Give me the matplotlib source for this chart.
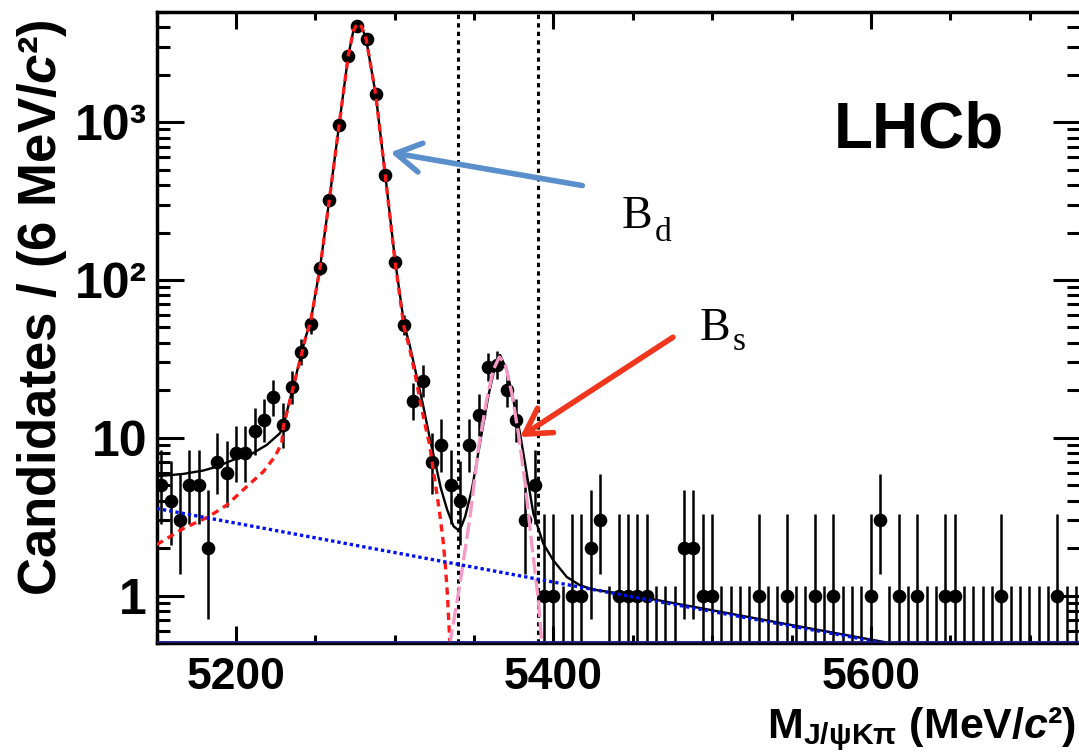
import math
import numpy as np
import matplotlib
matplotlib.use("Agg")
import matplotlib.pyplot as plt
from matplotlib import font_manager
from matplotlib.ticker import FixedLocator, MultipleLocator, LogLocator, NullFormatter


def has_font(name):
    try:
        font_manager.findfont(font_manager.FontProperties(family=name),
                              fallback_to_default=False)
        return True
    except Exception:
        return False


SANS = "Liberation Sans"
NARROW = "Liberation Sans Narrow" if has_font("Liberation Sans Narrow") else SANS
SERIF = "Liberation Serif"

plt.rcParams["font.family"] = [SANS, "DejaVu Sans"]
plt.rcParams["mathtext.fontset"] = "custom"
plt.rcParams["mathtext.rm"] = f"{SANS}:bold"
plt.rcParams["mathtext.it"] = f"{SANS}:italic:bold"
plt.rcParams["mathtext.bf"] = f"{NARROW}:bold"

# ---------------- data ----------------
# J/psi K pi invariant-mass histogram, bins start at 5150 MeV
bin_lo = 5150.0
bin_width = 5.88
counts = [
    5, 4, 3, 5, 5, 2, 7, 6, 8, 8,
    11, 13, 18, 12, 21, 35, 53, 119, 320, 962,
    2643, 4105, 3396, 1507, 462, 131, 52, 17, 23, 7,
    9, 5, 4, 9, 14, 28, 29, 20, 13, 3,
    5, 1, 1, 0, 1, 1, 2, 3, 0, 1,
    1, 1, 1, 0, 0, 0, 2, 2, 1, 1,
    0, 0, 0, 0, 1, 0, 0, 1, 0, 0,
    1, 0, 1, 0, 0, 0, 1, 3, 0, 1,
    0, 1, 0, 0, 1, 1, 0, 0, 0, 0,
    1, 0, 0, 0, 0, 0, 1, 0, 0,
]

# total fit
total_mass = [5150, 5166.8, 5179.4, 5187.8, 5198.3, 5208.8, 5219.3, 5227.7, 5229.9,
              5234.0, 5238.2, 5243.4, 5247.0, 5252.9, 5258.8, 5264.9, 5270.7, 5273.9,
              5276.6, 5279.0, 5281.9, 5288.0, 5294.0, 5300.2, 5305.8, 5309.6, 5313.8,
              5318.0, 5322.0, 5326.0, 5329.0, 5333.0, 5337.0, 5340.0, 5342.0, 5344.3,
              5348.5, 5353.7, 5358.9, 5363.2, 5366.3, 5370.5, 5374.7, 5378.9, 5383.1,
              5387.3, 5393.6, 5399.9, 5408.4, 5416.8, 5425.1, 5450, 5550, 5650, 5732]
total_val = [5.7, 5.9, 6.2, 6.55, 7.25, 7.8, 9.0, 10.7, 12.0,
             17.5, 25.8, 42, 55, 120, 325, 960, 2640, 3800,
             4250, 4050, 3400, 1500, 465, 133, 53, 38, 24.5,
             15.8, 10.0, 6.6, 4.8, 3.5, 2.75, 2.6, 2.75, 3.15,
             4.66, 9.25, 18.3, 28.5, 33.5, 27, 17.4, 10.7, 5.96,
             3.32, 2.13, 1.67, 1.31, 1.16, 1.09, 1.0, 0.65, 0.425, 0.295]

# B0 signal component
bd_mass = [5150, 5166.8, 5182.5, 5194.1, 5206.7, 5217.2, 5224.5, 5228.8, 5229.8,
           5234.0, 5238.2, 5243.4, 5247.0, 5252.9, 5258.8, 5264.9, 5270.7, 5273.9,
           5276.6, 5279.0, 5281.9, 5288.0, 5294.0, 5300.2, 5305.8, 5309.6, 5313.8,
           5316.0, 5320.0, 5322.0, 5324.3, 5326.4, 5328.5, 5330.5, 5332.0, 5333.2,
           5334.5, 5335.5]
bd_val = [2.1, 2.66, 3.15, 3.74, 4.9, 6.1, 7.6, 9.25, 11.8,
          17.3, 25.5, 41.5, 54.5, 119, 324, 958, 2637, 3797,
          4247, 4047, 3397, 1497, 462, 130, 50.5, 36, 22.5,
          17.0, 11.0, 9.0, 6.2, 4.5, 3.2, 2.2, 1.5, 1.0,
          0.55, 0.3]

# Bs signal component
bs_mass = [5333.5, 5334.8, 5341.1, 5347.4, 5352.6, 5357.9, 5362.1, 5365.9,
           5369.5, 5373.7, 5377.9, 5382.1, 5386.3, 5390.5, 5392.6, 5393.8]
bs_val = [0.35, 0.5, 1.19, 3.15, 8.4, 17.4, 27, 32.5,
          29.5, 19.2, 10.7, 5.15, 2.13, 0.93, 0.5, 0.35]

# combinatorial background
bkg_mass = [5150, 5250, 5350, 5450, 5550, 5650, 5732]
bkg_val = [3.56, 2.32, 1.51, 0.98, 0.64, 0.42, 0.29]

# Bs signal window
bs_window = [5340, 5390]

x_ticks = [5200, 5400, 5600]
x_ticklabels = ["5200", "5400", "5600"]
y_ticks = [1, 10, 100, 1000]
y_ticklabels = ["1", "10", "10\u00b2", "10\u00b3"]

# ---------------- Poisson error bars ----------------
ALPHA = 0.158655
LOGFACT = np.concatenate([[0.0], np.cumsum(np.log(np.arange(1, max(counts) + 2)))])


def pois_cdf(n, mu):
    i = np.arange(n + 1)
    t = i * math.log(mu) - mu - LOGFACT[: n + 1]
    m = t.max()
    return float(math.exp(m) * np.exp(t - m).sum())


def bisect(f, lo, hi, it=70):
    for _ in range(it):
        mid = 0.5 * (lo + hi)
        if f(mid) > 0:
            lo = mid
        else:
            hi = mid
    return 0.5 * (lo + hi)


def poisson_interval(n):
    if n == 0:
        return 0.0, -math.log(2 * ALPHA)
    up = bisect(lambda mu: pois_cdf(n, mu) - ALPHA, n, n + 10 * math.sqrt(n) + 10)
    lo = bisect(lambda mu: pois_cdf(n - 1, mu) - (1 - ALPHA), 1e-9, n)
    return lo, up


counts_arr = np.array(counts)
centers = bin_lo + bin_width * (np.arange(len(counts)) + 0.5)
intervals = [poisson_interval(n) for n in counts]
lo_arr = np.array([iv[0] for iv in intervals])
up_arr = np.array([iv[1] for iv in intervals])

# ---------------- figure ----------------
W, H, DPI = 1079, 755, 100
fig = plt.figure(figsize=(W / DPI, H / DPI), dpi=DPI)
ax_left, ax_right, ax_top, ax_bottom = 156.7, 1080.4, 12, 643
ax = fig.add_axes([ax_left / W, (H - ax_bottom) / H,
                   (ax_right - ax_left) / W, (ax_bottom - ax_top) / H])
ax.set_xlim(5150, 5732)
ax.set_yscale("log")
ax.set_ylim(0.5, 5000)

# signal window
for xv in bs_window:
    ax.axvline(xv, color="black", lw=2.2, ls=(0, (1.4, 1.4)), zorder=1)

# data
nz = counts_arr > 0
ax.errorbar(centers[nz], counts_arr[nz],
            yerr=[counts_arr[nz] - lo_arr[nz], up_arr[nz] - counts_arr[nz]],
            xerr=bin_width / 2, fmt="o", color="black", ms=8.8, elinewidth=1.8,
            capsize=0, zorder=3)
ax.vlines(centers[~nz], 1e-3, up_arr[~nz], color="black", lw=1.8, zorder=3)

# fit curves
ax.plot(total_mass, total_val, color="black", lw=1.7, zorder=4)
ax.plot(bd_mass, bd_val, color="#ff1a1a", lw=2.4, ls=(0, (2.2, 1.6)), zorder=5)
ax.plot(bs_mass, bs_val, color="#f59ac6", lw=2.4, ls=(0, (5, 1.5)), zorder=5)
ax.plot(bkg_mass, bkg_val, color="#0010ee", lw=2.4, ls=(0, (1.0, 0.9)), zorder=5)
ax.axhline(0.505, color="#1c1c80", lw=1.3, zorder=6)

# axes styling
for sp in ax.spines.values():
    sp.set_linewidth(2.5)
ax.xaxis.set_major_locator(FixedLocator(x_ticks))
ax.xaxis.set_minor_locator(MultipleLocator(50))
ax.set_xticklabels(x_ticklabels, fontfamily=NARROW, fontweight="bold", fontsize=32)
ax.yaxis.set_major_locator(FixedLocator(y_ticks))
ax.yaxis.set_minor_locator(LogLocator(base=10, subs=np.arange(2, 10)))
ax.yaxis.set_minor_formatter(NullFormatter())
ax.set_yticklabels(y_ticklabels, fontfamily=SANS, fontweight="bold", fontsize=36)
ax.tick_params(axis="both", which="both", direction="in", top=True, right=True,
               width=2.2)
ax.tick_params(axis="x", which="major", length=12.5, pad=10)
ax.tick_params(axis="x", which="minor", length=6)
ax.tick_params(axis="y", which="major", length=19.5, pad=7)
ax.tick_params(axis="y", which="minor", length=9.5)

# axis titles
fig.text(42 / W, 1 - 308 / H, "Candidates / (6 MeV/$\\mathit{c}$\u00b2)",
         rotation=90, ha="center", va="center", fontsize=38, fontweight="bold",
         family=SANS)
fig.text(1076 / W, 1 - 738 / H,
         "M$_{\\mathbf{J/\u03c8K\u03c0}}$ (MeV/$\\mathit{c}$\u00b2)",
         ha="right", va="baseline", fontsize=31, fontweight="bold", family=NARROW)

# experiment label
fig.text(834 / W, 1 - 148 / H, "LHCb", ha="left", va="baseline", fontsize=46,
         fontweight="bold", family=SANS)

# peak annotations
ax.annotate("", xy=(5297.2, 644), xytext=(5418.2, 397),
            arrowprops=dict(arrowstyle="->,head_length=0.6,head_width=0.35",
                            color="#5b8fcc", lw=4, mutation_scale=30,
                            shrinkA=0, shrinkB=0), zorder=7)
ax.annotate("", xy=(5378.9, 10.1), xytext=(5475.3, 43.4),
            arrowprops=dict(arrowstyle="->,head_length=0.6,head_width=0.35",
                            color="#f0361c", lw=4, mutation_scale=30,
                            shrinkA=0, shrinkB=0), zorder=7)
fig.text(622 / W, 1 - 228 / H, "B", ha="left", va="baseline", fontsize=33,
         family=SERIF)
fig.text(655 / W, 1 - 241 / H, "d", ha="left", va="baseline", fontsize=24,
         family=SERIF)
fig.text(700 / W, 1 - 340 / H, "B", ha="left", va="baseline", fontsize=33,
         family=SERIF)
fig.text(733 / W, 1 - 350 / H, "s", ha="left", va="baseline", fontsize=24,
         family=SERIF)

fig.savefig("out.png", dpi=DPI)
